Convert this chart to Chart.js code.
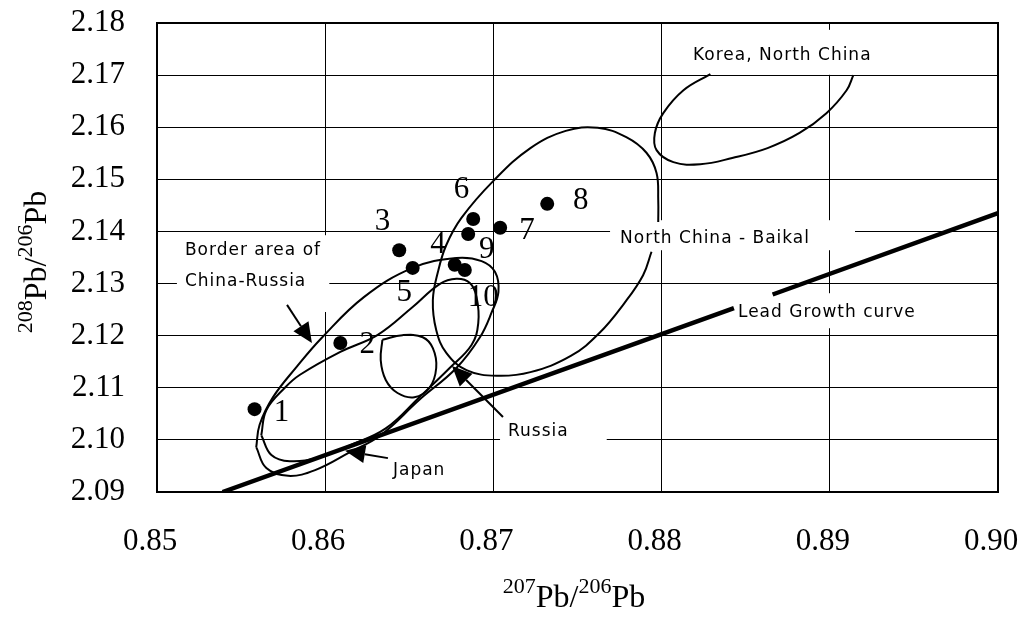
<!DOCTYPE html>
<html>
<head>
<meta charset="utf-8">
<script src="https://cdn.jsdelivr.net/npm/chart.js@4.4.1/dist/chart.umd.min.js"></script>
<style>
  html, body { margin: 0; padding: 0; background: #fff; }
  #wrap { width: 1021px; height: 621px; }
</style>
</head>
<body>
<div id="wrap"><canvas id="c"></canvas></div>
<script>
// Axis tick labels
const xTickLabels = ['0.85', '0.86', '0.87', '0.88', '0.89', '0.90'];
const yTickLabels = ['2.09', '2.10', '2.11', '2.12', '2.13', '2.14', '2.15', '2.16', '2.17', '2.18'];

// Samples: 207Pb/206Pb and 208Pb/206Pb
const sampleIds = ['1', '2', '3', '4', '5', '6', '7', '8', '9', '10'];
const sampleX = [0.8558, 0.8609, 0.8644, 0.8677, 0.8652, 0.8688, 0.8704, 0.8732, 0.8685, 0.8683];
const sampleY = [2.1059, 2.1186, 2.1364, 2.1336, 2.1330, 2.1424, 2.1407, 2.1453, 2.1395, 2.1326];

// Source-region outlines
const chinaRussiaX = [0.8559, 0.8561, 0.8569, 0.8583, 0.8598, 0.8623, 0.8652, 0.8678, 0.8693, 0.8701, 0.8703, 0.8699, 0.8692, 0.8678, 0.8656, 0.8633, 0.8615, 0.8594, 0.8578, 0.8565, 0.8559];
const chinaRussiaY = [2.0986, 2.1029, 2.1082, 2.1140, 2.1196, 2.1274, 2.1330, 2.1349, 2.1343, 2.1322, 2.1284, 2.1245, 2.1197, 2.1138, 2.1077, 2.1009, 2.0977, 2.0942, 2.0931, 2.0946, 2.0986];

const japanX = [0.8562, 0.8565, 0.8576, 0.8585, 0.8609, 0.8631, 0.8652, 0.8668, 0.8678, 0.8686, 0.8690, 0.8691, 0.8687, 0.8674, 0.8656, 0.8636, 0.8615, 0.8597, 0.8579, 0.8568, 0.8562];
const japanY = [2.1009, 2.1057, 2.1100, 2.1125, 2.1169, 2.1201, 2.1255, 2.1299, 2.1309, 2.1301, 2.1274, 2.1224, 2.1182, 2.1138, 2.1082, 2.1022, 2.0990, 2.0967, 2.0959, 2.0971, 2.1009];

const russiaX = [0.8634, 0.8633, 0.8636, 0.8643, 0.8653, 0.8662, 0.8666, 0.8664, 0.8658, 0.8646, 0.8634];
const russiaY = [2.1192, 2.1153, 2.1115, 2.1090, 2.1082, 2.1100, 2.1138, 2.1176, 2.1197, 2.1201, 2.1192];

const baikalX = [0.8798, 0.8798, 0.8797, 0.8791, 0.8779, 0.8762, 0.8743, 0.8722, 0.8700, 0.8681, 0.8672, 0.8667, 0.8664, 0.8666, 0.8672, 0.8684, 0.8702, 0.8722, 0.8746, 0.8763, 0.8778, 0.8789, 0.8794];
const baikalY = [2.1418, 2.1460, 2.1512, 2.1551, 2.1581, 2.1599, 2.1593, 2.1560, 2.1497, 2.1426, 2.1374, 2.1322, 2.1268, 2.1211, 2.1167, 2.1134, 2.1123, 2.1130, 2.1161, 2.1205, 2.1263, 2.1316, 2.1361];

const koreaX = [0.8829, 0.8813, 0.8801, 0.8796, 0.8797, 0.8807, 0.8823, 0.8842, 0.8863, 0.8882, 0.8898, 0.8910, 0.8914];
const koreaY = [2.1702, 2.1671, 2.1627, 2.1589, 2.1556, 2.1533, 2.1529, 2.1541, 2.1560, 2.1589, 2.1627, 2.1671, 2.1700];

// Lead growth curve (broken where its label sits)
const growthX = [0.8539, 0.8843, null, 0.8866, 0.9000];
const growthY = [2.0900, 2.1253, null, 2.1279, 2.1435];

const zip = (xs, ys) => xs.map((x, i) => ({ x: x, y: ys[i] }));

// Number labels beside each sample (data coordinates of the text centre)
const idLabelPos = [
  [0.8574, 2.1052], [0.8625, 2.1182], [0.8634, 2.1418], [0.8667, 2.1374], [0.8647, 2.1282],
  [0.8681, 2.1480], [0.8720, 2.1401], [0.8752, 2.1458], [0.8696, 2.1364], [0.8694, 2.1272]
];

// Region captions with white backing boxes
const captions = [
  { text: 'Korea, North China',  x: 0.88187, y: 2.1737, padL: 8,  padR: 6,  padT: 26, padB: 19 },
  { text: 'North China - Baikal', x: 0.87753, y: 2.1387, padL: 10, padR: 45, padT: 18, padB: 12 },
  { text: 'Border area of',       x: 0.85166, y: 2.1364, padL: 8,  padR: 23, padT: 15, padB: 16 },
  { text: 'China-Russia',         x: 0.85166, y: 2.1303, padL: 8,  padR: 23, padT: 16, padB: 30 },
  { text: 'Lead Growth curve',    x: 0.88454, y: 2.1245, padL: 8,  padR: 20, padT: 19, padB: 16 },
  { text: 'Russia',               x: 0.87087, y: 2.1015, padL: 8,  padR: 38, padT: 14, padB: 10 },
  { text: 'Japan',                x: 0.86403, y: 2.0942, padL: 6,  padR: 6,  padT: 12, padB: 12 }
];

// Pointer arrows: [tailX, tailY, tipX, tipY]
const arrows = [
  [0.85773, 2.1259, 0.85921, 2.1186],
  [0.86373, 2.0965, 0.86118, 2.0979],
  [0.87057, 2.1044, 0.86754, 2.1142]
];

const outline = (xs, ys) => ({
  type: 'line', data: zip(xs, ys), borderColor: '#000', borderWidth: 2,
  pointRadius: 0, tension: 0.4, fill: false, showLine: true
});

const annotate = {
  id: 'annotate',
  beforeDatasetsDraw(chart) {
    const { ctx, scales: { x, y } } = chart;
    ctx.save();
    ctx.font = '17px "DejaVu Sans"';
    ctx.letterSpacing = '1px';
    ctx.textBaseline = 'middle';
    ctx.textAlign = 'left';
    captions.forEach(c => {
      const px = x.getPixelForValue(c.x), py = y.getPixelForValue(c.y);
      const w = ctx.measureText(c.text).width;
      ctx.fillStyle = '#fff';
      ctx.fillRect(px - c.padL, py - c.padT, w + c.padL + c.padR, c.padT + c.padB);
      ctx.fillStyle = '#000';
      ctx.fillText(c.text, px, py);
    });
    ctx.restore();
  },
  afterDatasetsDraw(chart) {
    const { ctx, scales: { x, y } } = chart;
    ctx.save();
    ctx.fillStyle = '#000';
    ctx.strokeStyle = '#000';
    ctx.font = '31px "Liberation Serif"';
    ctx.textAlign = 'center';
    ctx.textBaseline = 'middle';
    sampleIds.forEach((id, i) => {
      ctx.fillText(id, x.getPixelForValue(idLabelPos[i][0]), y.getPixelForValue(idLabelPos[i][1]));
    });
    arrows.forEach(a => {
      const x0 = x.getPixelForValue(a[0]), y0 = y.getPixelForValue(a[1]);
      const x1 = x.getPixelForValue(a[2]), y1 = y.getPixelForValue(a[3]);
      const ang = Math.atan2(y1 - y0, x1 - x0);
      const len = 20, half = 9;
      const bx = x1 - len * Math.cos(ang), by = y1 - len * Math.sin(ang);
      ctx.lineWidth = 2;
      ctx.beginPath(); ctx.moveTo(x0, y0); ctx.lineTo(bx, by); ctx.stroke();
      ctx.beginPath();
      ctx.moveTo(x1, y1);
      ctx.lineTo(bx + half * Math.sin(ang), by - half * Math.cos(ang));
      ctx.lineTo(bx - half * Math.sin(ang), by + half * Math.cos(ang));
      ctx.closePath(); ctx.fill();
    });
    ctx.restore();
  },
  afterDraw(chart) {
    const { ctx, chartArea: a } = chart;
    ctx.save();
    ctx.strokeStyle = '#000';
    ctx.lineWidth = 2;
    ctx.strokeRect(a.left, a.top, a.right - a.left, a.bottom - a.top);
    // axis titles with superscript mass numbers
    const drawTitle = (parts) => {
      let w = 0;
      parts.forEach(p => { ctx.font = p[1] + 'px "Liberation Serif"'; p.w = ctx.measureText(p[0]).width; w += p.w; });
      let cx = -w / 2;
      parts.forEach(p => {
        ctx.font = p[1] + 'px "Liberation Serif"';
        ctx.fillText(p[0], cx, p[2]);
        cx += p.w;
      });
    };
    const parts = (a1, b1) => [[a1, 22, -14], ['Pb/', 32, 0], [b1, 22, -14], ['Pb', 32, 0]];
    ctx.fillStyle = '#000';
    ctx.textAlign = 'left';
    ctx.textBaseline = 'alphabetic';
    ctx.translate(574, 607);
    drawTitle(parts('207', '206'));
    ctx.setTransform(1, 0, 0, 1, 0, 0);
    ctx.translate(46, 262);
    ctx.rotate(-Math.PI / 2);
    drawTitle(parts('208', '206'));
    ctx.restore();
  }
};

new Chart(document.getElementById('c'), {
  type: 'scatter',
  data: {
    datasets: [
      { data: zip(sampleX, sampleY), pointRadius: 7, pointBackgroundColor: '#000', pointBorderWidth: 0, showLine: false },
      outline(chinaRussiaX, chinaRussiaY),
      outline(japanX, japanY),
      outline(russiaX, russiaY),
      outline(baikalX, baikalY),
      outline(koreaX, koreaY),
      { type: 'line', data: zip(growthX, growthY), borderColor: '#000', borderWidth: 4.5, pointRadius: 0, tension: 0, spanGaps: false, showLine: true }
    ]
  },
  options: {
    responsive: true,
    maintainAspectRatio: false,
    animation: false,
    events: [],
    layout: { padding: { left: 0, top: 23, right: 23, bottom: 0 } },
    plugins: { legend: { display: false }, tooltip: { enabled: false } },
    scales: {
      x: {
        type: 'linear', min: 0.85, max: 0.90,
        afterFit(s) { s.height = 129; s.paddingLeft = 0; s.paddingRight = 0; },
        grid: { color: '#000', lineWidth: 1, drawTicks: false },
        border: { color: '#000', width: 2 },
        ticks: {
          stepSize: 0.01, autoSkip: false, maxRotation: 0, padding: 31, labelOffset: -7,
          color: '#000', font: { family: 'Liberation Serif', size: 31 },
          callback: (v, i) => xTickLabels[i]
        }
      },
      y: {
        type: 'linear', min: 2.09, max: 2.18,
        afterFit(s) { s.width = 157; s.paddingTop = 0; s.paddingBottom = 0; },
        grid: { color: '#000', lineWidth: 1, drawTicks: false },
        border: { color: '#000', width: 2 },
        ticks: {
          stepSize: 0.01, autoSkip: false, padding: 32,
          color: '#000', font: { family: 'Liberation Serif', size: 31 },
          callback: (v, i) => yTickLabels[i]
        }
      }
    }
  },
  plugins: [annotate]
});
</script>
</body>
</html>
